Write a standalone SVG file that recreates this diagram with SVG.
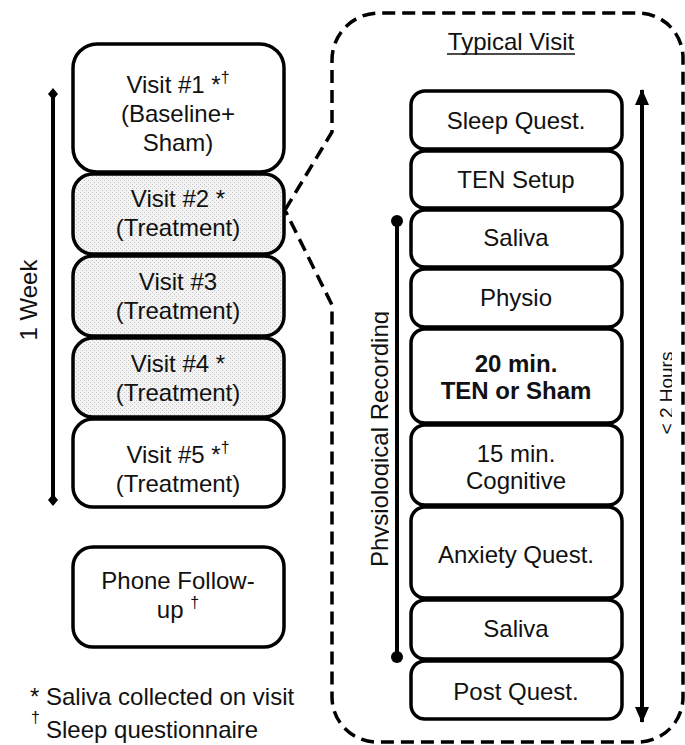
<svg xmlns="http://www.w3.org/2000/svg" width="685" height="745" viewBox="0 0 685 745">
<defs>
<style>
text{font-family:"Liberation Sans",Arial,sans-serif;font-size:24px;fill:#111;}
.c{text-anchor:middle;}
.b{font-weight:bold;}
.box{stroke:#000;stroke-width:3.5;fill:#fff;}
.dot{stroke:#000;stroke-width:3.5;fill:url(#stip);}
.sup{font-size:16px;}
.ln{stroke:#000;stroke-width:4;fill:none;}
</style>
<pattern id="stip" width="4" height="4" patternUnits="userSpaceOnUse">
<rect width="4" height="4" fill="#f3f3f3"/>
<rect x="0" y="0" width="1" height="1" fill="#c4c4c4"/>
<rect x="2" y="2" width="1" height="1" fill="#c4c4c4"/>
</pattern>
<marker id="dia" viewBox="0 0 12 10" refX="6" refY="5" markerWidth="12" markerHeight="10" markerUnits="userSpaceOnUse" orient="auto">
<path d="M0 5 L6 0 L12 5 L6 10 Z" fill="#000"/>
</marker>
<marker id="ball" viewBox="0 0 12 12" refX="6" refY="6" markerWidth="12" markerHeight="12" markerUnits="userSpaceOnUse">
<circle cx="6" cy="6" r="6" fill="#000"/>
</marker>
<marker id="arr" viewBox="0 0 16 14" refX="15" refY="7" markerWidth="16" markerHeight="14" markerUnits="userSpaceOnUse" orient="auto-start-reverse">
<path d="M0 0 L16 7 L0 14 Z" fill="#000"/>
</marker>
<clipPath id="clipPR"><rect x="300" y="200" width="89" height="480"/></clipPath>
<clipPath id="clipH"><rect x="600" y="300" width="72" height="200"/></clipPath>
</defs>

<g id="callout">
<path d="M285 210 L332 132 L332 60 A47 47 0 0 1 379 13 L638 13 A45 45 0 0 1 683 58 L683 697 A45 45 0 0 1 638 742 L377 742 A45 45 0 0 1 332 697 L332 305 Z" fill="none" stroke="#000" stroke-width="3.5" stroke-dasharray="13 7"/>
</g>

<g id="connectors">
<line class="ln" x1="53" y1="94" x2="53" y2="500" marker-start="url(#dia)" marker-end="url(#dia)"/>
<line class="ln" x1="397" y1="221" x2="397" y2="657" marker-start="url(#ball)" marker-end="url(#ball)"/>
<line class="ln" x1="642" y1="90" x2="642" y2="722" marker-start="url(#arr)" marker-end="url(#arr)"/>
</g>

<g id="label-week"><text class="c" transform="translate(37,300) rotate(-90)">1 Week</text></g>
<g id="label-phys" clip-path="url(#clipPR)"><text class="c" transform="translate(388,439) rotate(-90)">Physiological Recording</text></g>
<g id="label-hours" clip-path="url(#clipH)"><text class="c" style="font-size:19px" transform="translate(673,393) rotate(-90)">&lt; 2 Hours</text></g>

<g id="title">
<text class="c" x="511" y="50">Typical Visit</text>
<line x1="447" y1="54" x2="575" y2="54" stroke="#111" stroke-width="1.6"/>
</g>

<g id="visit1">
<rect class="box" x="73" y="44" width="211" height="128" rx="24"/>
<text class="c" x="178" y="93">Visit #1 *<tspan class="sup" dy="-10">†</tspan></text>
<text class="c" x="178" y="122">(Baseline+</text>
<text class="c" x="178" y="151">Sham)</text>
</g>
<g id="visit2">
<rect class="dot" x="73" y="174" width="211" height="80" rx="20"/>
<text class="c" x="178" y="207">Visit #2 *</text>
<text class="c" x="178" y="236">(Treatment)</text>
</g>
<g id="visit3">
<rect class="dot" x="73" y="256" width="211" height="80" rx="20"/>
<text class="c" x="178" y="290">Visit #3</text>
<text class="c" x="178" y="319">(Treatment)</text>
</g>
<g id="visit4">
<rect class="dot" x="73" y="338" width="211" height="79" rx="20"/>
<text class="c" x="178" y="372">Visit #4 *</text>
<text class="c" x="178" y="401">(Treatment)</text>
</g>
<g id="visit5">
<rect class="box" x="73" y="419" width="211" height="88" rx="20"/>
<text class="c" x="178" y="463">Visit #5 *<tspan class="sup" dy="-10">†</tspan></text>
<text class="c" x="178" y="492">(Treatment)</text>
</g>
<g id="phone">
<rect class="box" x="73" y="547" width="211" height="100" rx="20"/>
<text class="c" x="178" y="589">Phone Follow-</text>
<text class="c" x="178" y="618">up <tspan class="sup" dy="-10">†</tspan></text>
</g>

<g id="legend">
<text x="30" y="705">* Saliva collected on visit</text>
<text class="sup" x="31" y="723">†</text>
<text x="46" y="738">Sleep questionnaire</text>
</g>

<g id="sleepq">
<rect class="box" x="411" y="91" width="211" height="58" rx="14"/>
<text class="c" x="516" y="129">Sleep Quest.</text>
</g>
<g id="tensetup">
<rect class="box" x="411" y="151" width="211" height="57" rx="14"/>
<text class="c" x="516" y="188">TEN Setup</text>
</g>
<g id="saliva1">
<rect class="box" x="411" y="210" width="211" height="57" rx="14"/>
<text class="c" x="516" y="246">Saliva</text>
</g>
<g id="physio">
<rect class="box" x="411" y="269" width="211" height="58" rx="14"/>
<text class="c" x="516" y="306">Physio</text>
</g>
<g id="ten">
<rect class="box" x="411" y="329" width="211" height="94" rx="14"/>
<text class="c b" x="516" y="372">20 min.</text>
<text class="c b" x="516" y="399">TEN or Sham</text>
</g>
<g id="cognitive">
<rect class="box" x="411" y="425" width="211" height="80" rx="14"/>
<text class="c" x="516" y="462">15 min.</text>
<text class="c" x="516" y="489">Cognitive</text>
</g>
<g id="anxiety">
<rect class="box" x="411" y="507" width="211" height="91" rx="14"/>
<text class="c" x="516" y="563">Anxiety Quest.</text>
</g>
<g id="saliva2">
<rect class="box" x="411" y="600" width="211" height="59" rx="14"/>
<text class="c" x="516" y="637">Saliva</text>
</g>
<g id="postq">
<rect class="box" x="411" y="661" width="211" height="58" rx="14"/>
<text class="c" x="516" y="700">Post Quest.</text>
</g>
</svg>
